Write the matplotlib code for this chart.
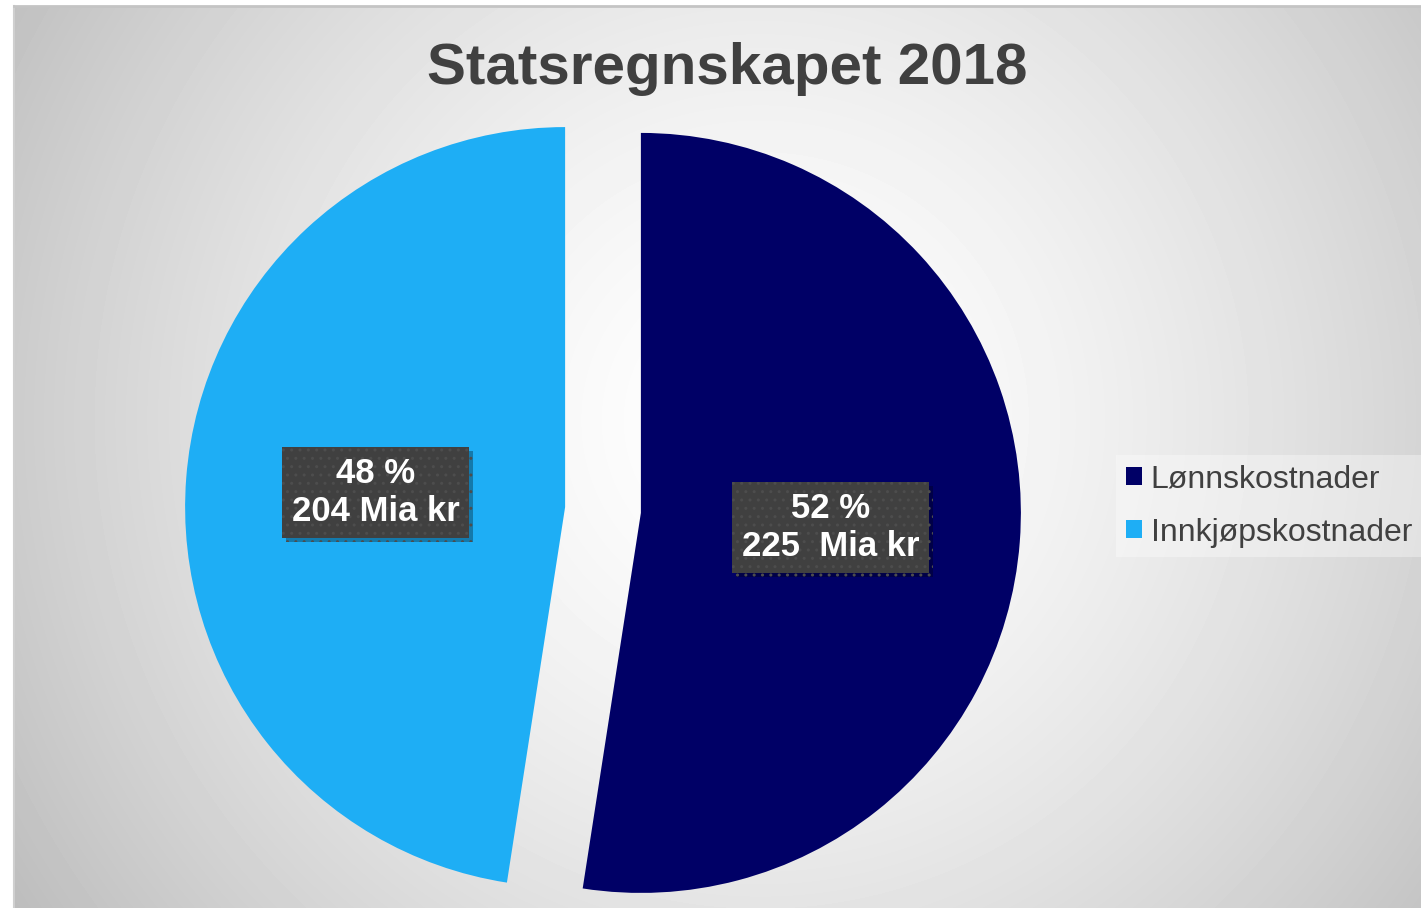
"""Statsregnskapet 2018 - kakediagram med to sektorer"""

import matplotlib
matplotlib.use('Agg')
import matplotlib.pyplot as plt
import matplotlib.patheffects as pe
import numpy as np

plt.rcParams['font.family'] = ['Liberation Sans', 'DejaVu Sans']

# data
categories = ['Lønnskostnader', 'Innkjøpskostnader']
values = [225, 204]
amount_labels = ['225  Mia kr', '204 Mia kr']
colors = ['#000066', '#1EAEF5']
title = 'Statsregnskapet 2018'

W, H = 1421, 908
fig = plt.figure(figsize=(W / 100, H / 100), dpi=100)
fig.patch.set_facecolor('white')

# bakgrunn med radial gradient
bg = fig.add_axes([14 / W, 0, (W - 14) / W, (H - 6) / H])
yy, xx = np.mgrid[6:H, 14:W]
d = np.hypot(xx - 760, yy - 420) / 868.0
shade = 1 - 0.25 * np.clip(d, 0, 1.2) ** 1.5
bg.imshow(shade, cmap='gray', vmin=0, vmax=1, aspect='auto',
          extent=[0, 1, 0, 1], origin='upper', interpolation='bilinear')
bg.set_xticks([])
bg.set_yticks([])
for s in bg.spines.values():
    s.set_visible(False)
bg.spines['top'].set_visible(True)
bg.spines['top'].set_color('#c4c4c4')
bg.spines['top'].set_linewidth(2)
bg.spines['left'].set_visible(True)
bg.spines['left'].set_color('#cfcfcf')
bg.spines['left'].set_linewidth(1.5)

# kakediagram
R = 380
cx, cy = 603, H - 510
side = 2.4 * R
ax = fig.add_axes([(cx - side / 2) / W, (cy - side / 2) / H, side / W, side / H])
ax.set_facecolor('none')

idx = iter(range(len(values)))


def fmt(p):
    i = next(idx)
    return f"{p:.0f} %\n{amount_labels[i]}"


wedges, texts, autotexts = ax.pie(
    values, colors=colors, startangle=90, counterclock=False,
    explode=[0.1, 0.1], pctdistance=0.5, autopct=fmt,
    wedgeprops=dict(linewidth=0),
)
ax.set_xlim(-1.2, 1.2)
ax.set_ylim(-1.2, 1.2)
ax.set_aspect('equal')
ax.axis('off')

for t in autotexts:
    t.set_color('white')
    t.set_fontsize(25)
    t.set_fontweight('bold')
    t.set_linespacing(1.2)
    t.set_bbox(dict(boxstyle='square,pad=0.28', facecolor='#404040',
                    edgecolor='#4d4d4d', linewidth=0, hatch='..'))
    t.get_bbox_patch().set_path_effects(
        [pe.withSimplePatchShadow(offset=(3, -3), shadow_rgbFace='black', alpha=0.3)])

# tittel
fig.text(727 / W, (H - 84) / H, title, ha='center', va='baseline',
         fontsize=42, fontweight='bold', color='#404040')

# legend
leg = fig.legend(wedges, categories, loc='center left',
                 bbox_to_anchor=(1116 / W, (H - 506) / H),
                 bbox_transform=fig.transFigure, frameon=True,
                 fontsize=23, handlelength=0.5, handleheight=0.5,
                 handletextpad=0.28, labelspacing=0.72, borderpad=0.3,
                 borderaxespad=0, fancybox=False)
leg.get_frame().set_facecolor('white')
leg.get_frame().set_alpha(0.35)
leg.get_frame().set_linewidth(0)
for t in leg.get_texts():
    t.set_color('#404040')

plt.savefig('out.png', dpi=100, facecolor='white')
plt.close()
